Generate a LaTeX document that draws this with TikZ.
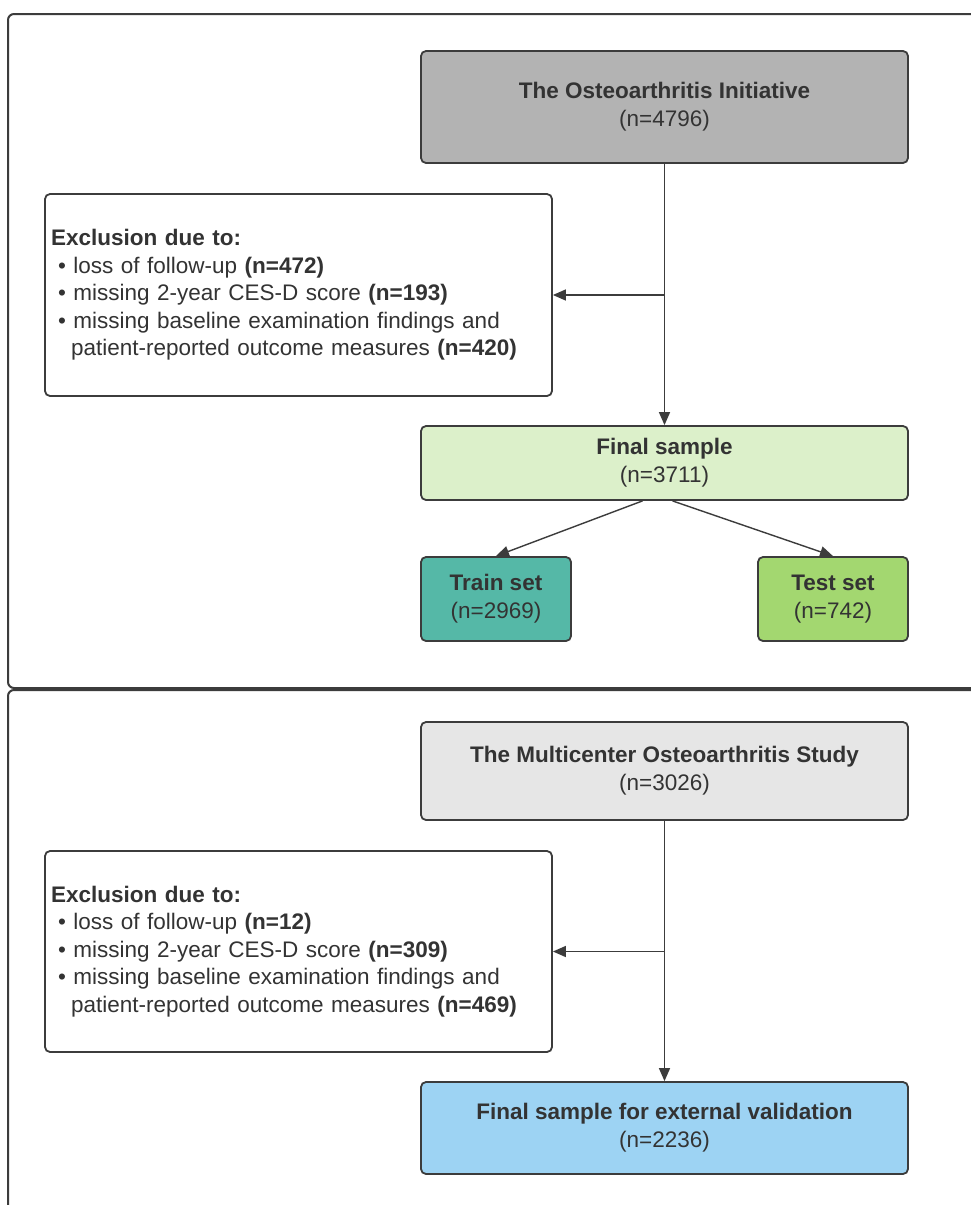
\documentclass[tikz,border=0pt]{standalone}
\usepackage{fontspec}
\setmainfont{Liberation Sans}
\usetikzlibrary{arrows.meta,calc}
\definecolor{bordc}{HTML}{3C3C3C}
\definecolor{txtc}{HTML}{333333}
\definecolor{oaic}{HTML}{B3B3B3}
\definecolor{fsc}{HTML}{DCF0CA}
\definecolor{trainc}{HTML}{55B8A7}
\definecolor{testc}{HTML}{A3D770}
\definecolor{mostc}{HTML}{E6E6E6}
\definecolor{fevc}{HTML}{9DD3F3}
\begin{document}
\begin{tikzpicture}[x=1pt,y=-1pt,
  box/.style={draw=bordc, line width=1.8pt, rounded corners=5pt, text=txtc, align=center,
    inner sep=0pt, font=\fontsize{22.5}{28}\selectfont},
  exbox/.style={box, align=left, text width=495pt, inner xsep=6pt, minimum height=202pt,
    font=\fontsize{22.5}{27.5}\selectfont},
  frame/.style={draw=bordc, line width=2pt, rounded corners=6pt},
  conn/.style={draw=bordc, line width=1.4pt},
  arr/.style={conn, -{Triangle[length=13pt,width=11pt]}}
]
\useasboundingbox (0,0) rectangle (971,1205);
\clip (0,0) rectangle (971,1205);
\fill[white] (0,0) rectangle (971,1205);
\draw[frame] (8,14) rectangle (1000,688);
\draw[frame] (8,690) rectangle (1000,1300);

\node[box, fill=oaic, minimum width=487pt, minimum height=112pt] (oai) at (664.5,107)
  {\textbf{The Osteoarthritis Initiative}\\(n=4796)};
\node[exbox, fill=white] (exc1) at (298.5,295)
  {\textbf{Exclusion due to:}\\
   \hspace*{7pt}\textbullet\ loss of follow-up \textbf{(n=472)}\\
   \hspace*{7pt}\textbullet\ missing 2-year CES-D score \textbf{(n=193)}\\
   \hspace*{7pt}\textbullet\ missing baseline examination findings and\\
   \hspace*{20pt}patient-reported outcome measures \textbf{(n=420)}};
\node[box, fill=fsc, minimum width=487pt, minimum height=74pt] (fs) at (664.5,463)
  {\textbf{Final sample}\\(n=3711)};
\node[box, fill=trainc, minimum width=150pt, minimum height=84pt] (train) at (496,599)
  {\textbf{Train set}\\(n=2969)};
\node[box, fill=testc, minimum width=150pt, minimum height=84pt] (test) at (833,599)
  {\textbf{Test set}\\(n=742)};

\node[box, fill=mostc, minimum width=487pt, minimum height=98pt] (most) at (664.5,771)
  {\textbf{The Multicenter Osteoarthritis Study}\\(n=3026)};
\node[exbox, fill=white, minimum height=201pt] (exc2) at (298.5,951.5)
  {\textbf{Exclusion due to:}\\
   \hspace*{7pt}\textbullet\ loss of follow-up \textbf{(n=12)}\\
   \hspace*{7pt}\textbullet\ missing 2-year CES-D score \textbf{(n=309)}\\
   \hspace*{7pt}\textbullet\ missing baseline examination findings and\\
   \hspace*{20pt}patient-reported outcome measures \textbf{(n=469)}};
\node[box, fill=fevc, minimum width=487pt, minimum height=92pt] (fev) at (664.5,1128)
  {\textbf{Final sample for external validation}\\(n=2236)};

\draw[arr] (oai.south) -- (fs.north);
\draw[arr] (oai.south |- exc1.east) -- (exc1.east);
\draw[arr] ($(fs.south)+(-22,0)$) -- (train.north);
\draw[arr] ($(fs.south)+(8,0)$) -- (test.north);

\draw[arr] (most.south) -- (fev.north);
\draw[arr] (most.south |- exc2.east) -- (exc2.east);
\end{tikzpicture}
\end{document}
